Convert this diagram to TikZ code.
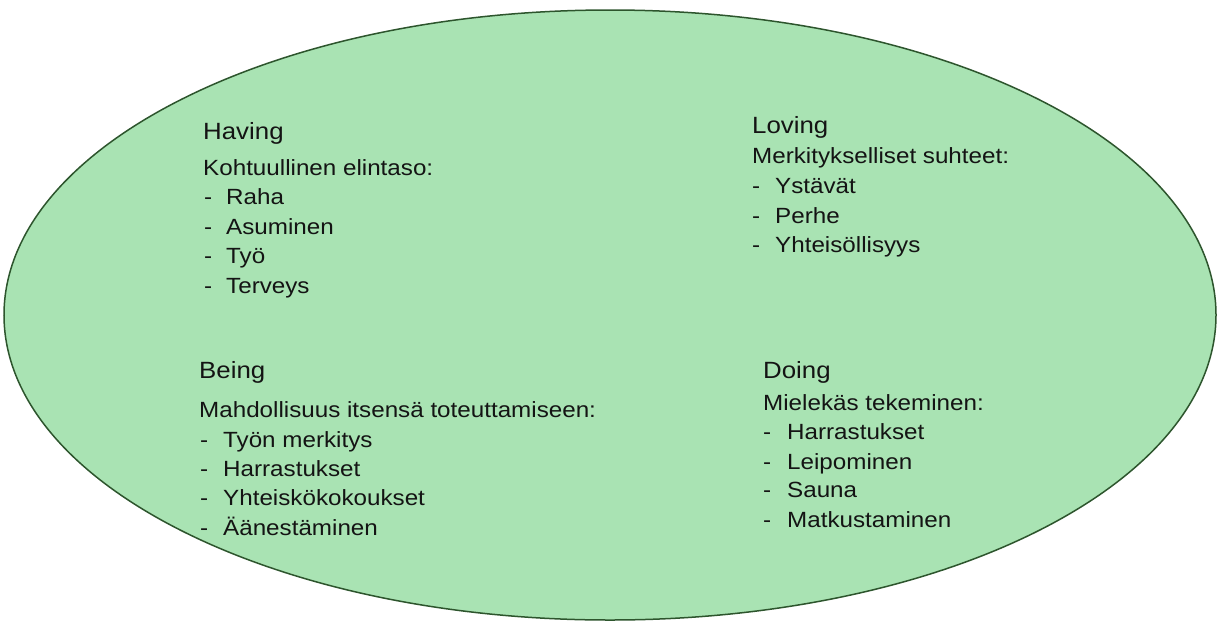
\documentclass[tikz,border=0pt]{standalone}
\usepackage{fontspec}
\setmainfont{Liberation Sans}[FakeStretch=1.1]
\definecolor{ellfill}{RGB}{169,227,179}
\definecolor{elldraw}{RGB}{45,85,45}
\definecolor{txt}{RGB}{20,20,20}
\tikzset{
  head/.style={anchor=base west, inner sep=0pt, text=txt, font=\fontsize{23.5}{28}\selectfont},
  sub/.style={anchor=base west, inner sep=0pt, text=txt, font=\fontsize{22}{26}\selectfont},
  item/.style={anchor=base west, inner sep=0pt, text=txt, font=\fontsize{22}{26}\selectfont},
  oval/.style={fill=ellfill, draw=elldraw, line width=1.5pt}
}
\newcommand{\dashitem}[2]{\makebox[#1][l]{-}#2}
\begin{document}
\begin{tikzpicture}[x=1pt,y=-1pt]
\useasboundingbox (0,0) rectangle (1224,622);
\fill[white] (0,0) rectangle (1224,622);
\draw[oval] (610,315) ellipse [x radius=606, y radius=305];
% Having
\node[head] (hh) at (203,139) {Having};
\node[sub] (hs) at (203,175) {Kohtuullinen elintaso:};
\node[item] (h1) at (204,204) {\dashitem{22pt}{Raha}};
\node[item] (h2) at (204,234) {\dashitem{22pt}{Asuminen}};
\node[item] (h3) at (204,263) {\dashitem{22pt}{Työ}};
\node[item] (h4) at (204,293) {\dashitem{22pt}{Terveys}};
% Loving
\node[head] (lh) at (752,133) {Loving};
\node[sub] (ls) at (752,163) {Merkitykselliset suhteet:};
\node[item] (l1) at (752,193) {\dashitem{23pt}{Ystävät}};
\node[item] (l2) at (752,223) {\dashitem{23pt}{Perhe}};
\node[item] (l3) at (752,252) {\dashitem{23pt}{Yhteisöllisyys}};
% Being
\node[head] (bh) at (199,378) {Being};
\node[sub] (bs) at (199,417) {Mahdollisuus itsensä toteuttamiseen:};
\node[item] (b1) at (200,447) {\dashitem{23pt}{Työn merkitys}};
\node[item] (b2) at (200,476) {\dashitem{23pt}{Harrastukset}};
\node[item] (b3) at (200,505) {\dashitem{23pt}{Yhteiskökokoukset}};
\node[item] (b4) at (200,535) {\dashitem{23pt}{Äänestäminen}};
% Doing
\node[head] (dh) at (763,378) {Doing};
\node[sub] (ds) at (763,410) {Mielekäs tekeminen:};
\node[item] (d1) at (763,439) {\dashitem{24pt}{Harrastukset}};
\node[item] (d2) at (763,469) {\dashitem{24pt}{Leipominen}};
\node[item] (d3) at (763,497) {\dashitem{24pt}{Sauna}};
\node[item] (d4) at (763,527) {\dashitem{24pt}{Matkustaminen}};
\end{tikzpicture}
\end{document}
